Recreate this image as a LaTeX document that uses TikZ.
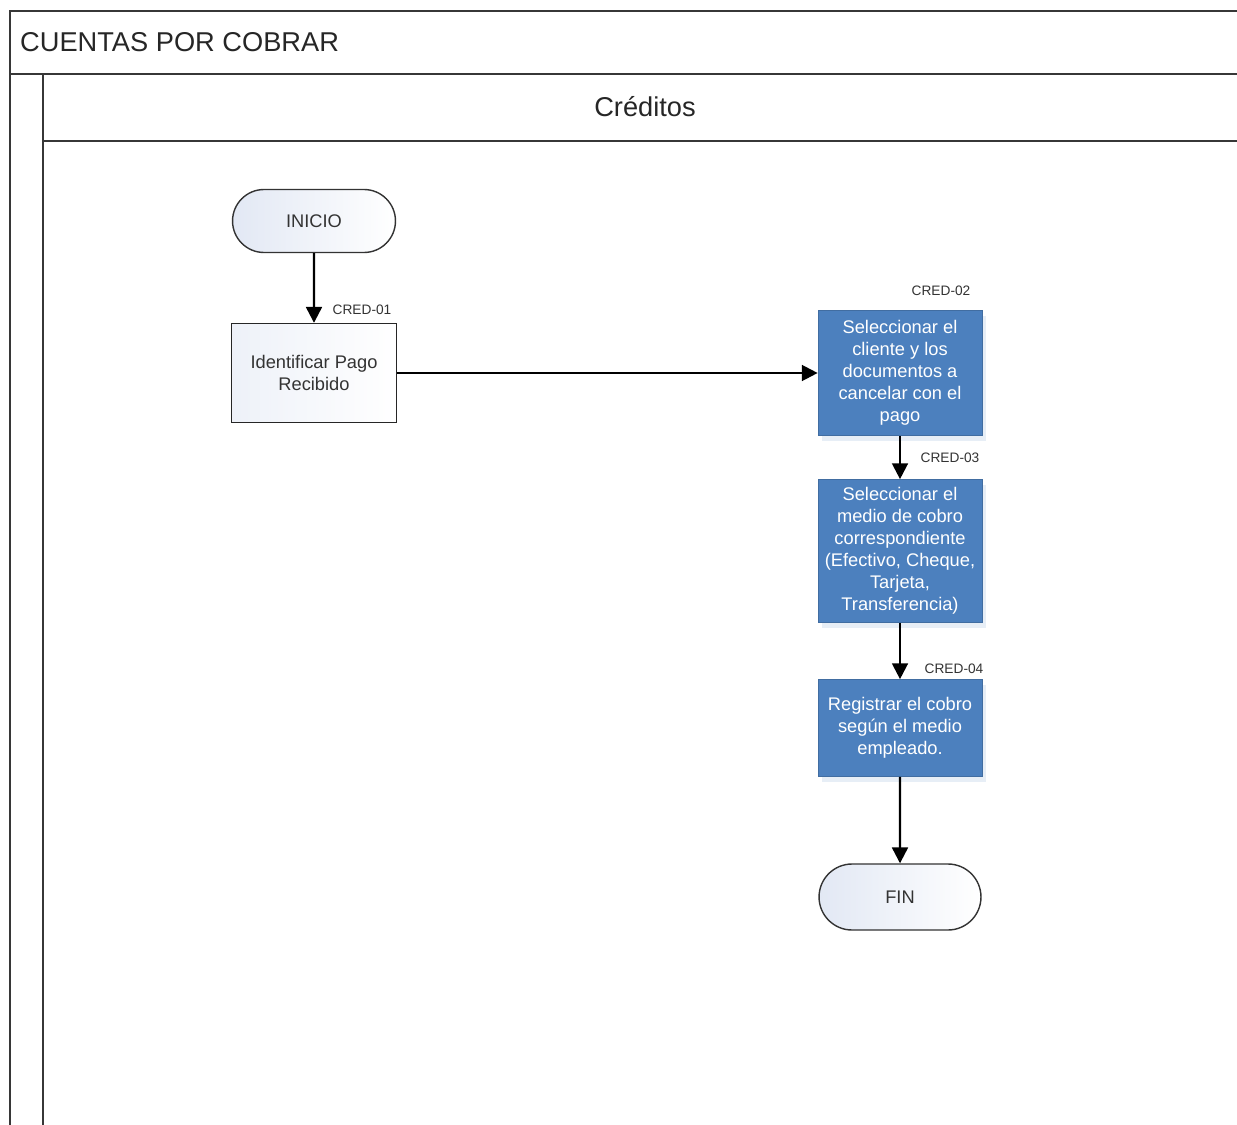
\documentclass[tikz,border=0pt]{standalone}
\usepackage{fontspec}
\setmainfont{Liberation Sans}
\usetikzlibrary{arrows.meta,shapes.misc,shadows}
\definecolor{credblue}{RGB}{76,128,190}
\definecolor{laneline}{RGB}{55,55,55}
\definecolor{termfill}{RGB}{226,232,244}

\begin{document}
\begin{tikzpicture}[x=0.02cm,y=-0.02cm]
			\useasboundingbox (0,0) rectangle (1237,1125);
			% carriles
			\begin{scope}[line width=1.3pt,draw=laneline]
				\draw (1237,11) -- (10,11) -- (10,1125);
				\draw (10,74) -- (1237,74);
				\draw (43,74) -- (43,1125);
				\draw (43,141) -- (1237,141);
			\end{scope}
			\node[anchor=west,font=\fontsize{15.5}{18}\selectfont,text=black!85] (pool) at (14,42) {CUENTAS POR COBRAR};
			\node[font=\fontsize{15.5}{18}\selectfont,text=black!85] (lane) at (645,107) {Créditos};
			
			\begin{scope}[every node/.style={font=\fontsize{10.4}{12.5}\selectfont,align=center,inner sep=2pt}]
				\node[rounded rectangle,draw=black!80,thick,minimum width=3.4cm,minimum height=1.26cm,
					left color=termfill,right color=white,text=black!80] (inicio) at (314,221) {INICIO};
				\node[rectangle,draw=black!85,thick,minimum width=3.3cm,minimum height=1.98cm,
					left color=termfill!60,right color=white,text=black!80] (pago) at (314,373) {Identificar Pago\\Recibido};
				\node[rectangle,fill=credblue,draw=credblue!85!black,text=white,minimum width=3.28cm,minimum height=2.5cm,
					drop shadow={shadow xshift=2pt,shadow yshift=-3pt,fill=credblue!30,opacity=0.45}] (cliente) at (900,373)
					{Seleccionar el\\cliente y los\\documentos a\\cancelar con el\\pago};
				\node[rectangle,fill=credblue,draw=credblue!85!black,text=white,minimum width=3.28cm,minimum height=2.86cm,
					drop shadow={shadow xshift=2pt,shadow yshift=-3pt,fill=credblue!30,opacity=0.45}] (medio) at (900,551)
					{Seleccionar el\\medio de cobro\\correspondiente\\(Efectivo, Cheque,\\Tarjeta,\\Transferencia)};
				\node[rectangle,fill=credblue,draw=credblue!85!black,text=white,minimum width=3.28cm,minimum height=1.94cm,
					drop shadow={shadow xshift=2pt,shadow yshift=-3pt,fill=credblue!30,opacity=0.45}] (registro) at (900,728)
					{Registrar el cobro\\según el medio\\empleado.};
				\node[rounded rectangle,draw=black!80,thick,minimum width=3.38cm,minimum height=1.32cm,
					left color=termfill,right color=white,text=black!80] (fin) at (900,897) {FIN};
			\end{scope}
			
			\begin{scope}[every node/.style={font=\fontsize{7.8}{9}\selectfont,text=black!80,inner sep=0pt}]
				\node (cred1) at (362,310) {CRED-01};
				\node (cred2) at (941,291) {CRED-02};
				\node (cred3) at (950,458) {CRED-03};
				\node (cred4) at (954,669) {CRED-04};
			\end{scope}
			
			\begin{scope}[every path/.style={draw=black,line width=1.3pt,-{Triangle[width=9pt,length=9pt]}}]
				\path (inicio) -- (pago);
				\path (pago) -- (cliente);
				\path (cliente) -- (medio);
				\path (medio) -- (registro);
				\path (registro) -- (fin);
			\end{scope}
		\end{tikzpicture}
\end{document}
